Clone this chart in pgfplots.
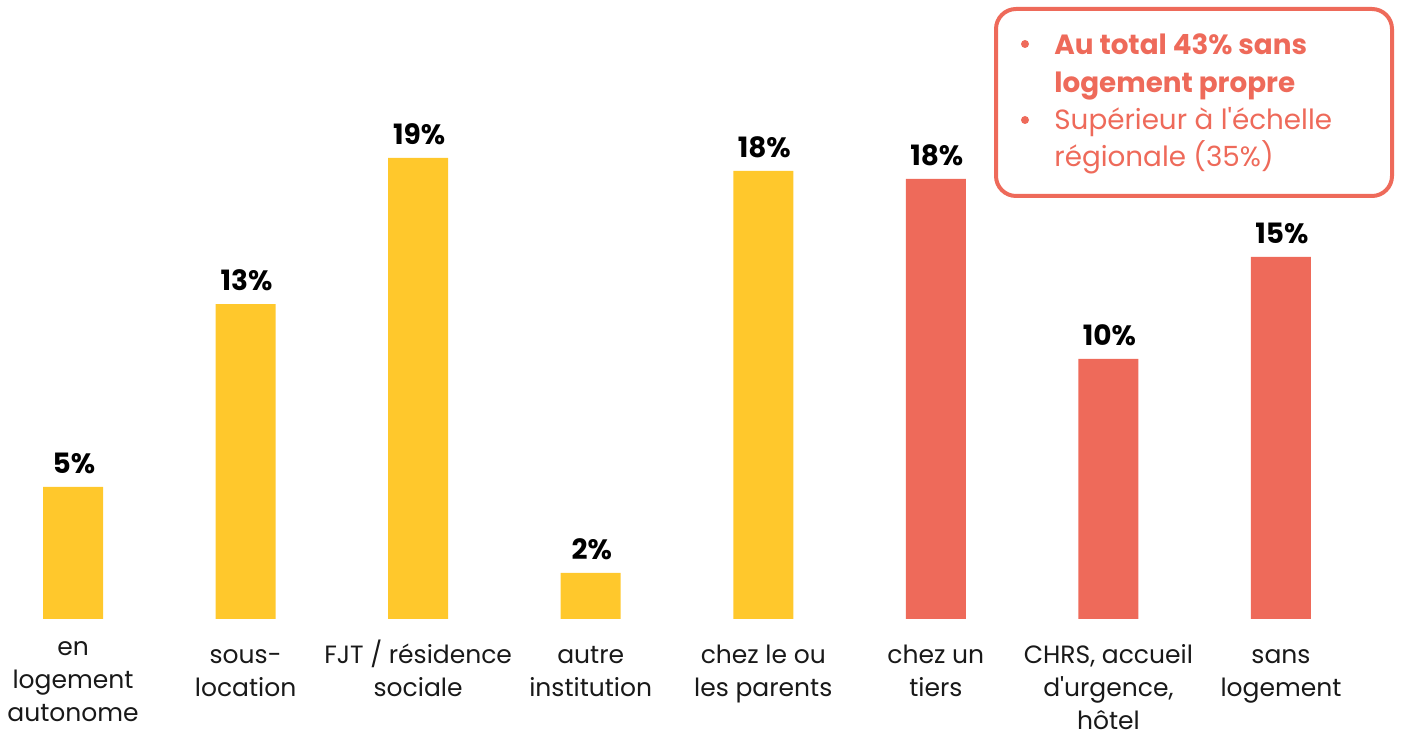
\documentclass[border=0pt]{standalone}
\usepackage{fontspec}
\setmainfont{Poppins}[Ligatures=TeXOff]
\usepackage{pgfplots}
\pgfplotsset{compat=1.18}
\usepackage{pgfplotstable}
\definecolor{baryellow}{HTML}{FFC82C}
\definecolor{barcoral}{HTML}{EE6A5A}

\pgfplotstableread{
x y lab
0 5.44 5
1 12.98 13
2 19.0 19
3 1.90 2
4 18.47 18
}\yellowdata
\pgfplotstableread{
x y lab
5 18.14 18
6 10.72 10
7 14.92 15
}\coraldata

\begin{document}
\begin{tikzpicture}
\useasboundingbox (-2pt,-57pt) rectangle (700pt,309.5pt);
\begin{axis}[
  scale only axis,
  width=673pt, height=303.3pt,
  xmin=-0.4, xmax=7.4, ymin=0, ymax=25,
  axis line style={draw=none},
  tick style={draw=none},
  major tick length=0pt,
  ytick=\empty,
  xtick={0,...,7},
  /pgf/number format/assume math mode=true,
  xticklabels={
    \strut\raisebox{4pt}[0pt][0pt]{\begin{tabular}[t]{@{}c@{}}en\\logement\\autonome\end{tabular}},
    \strut sous-\\location,
    \strut FJT / résidence\\sociale,
    \strut autre\\institution,
    \strut chez le ou\\les parents,
    \strut chez un\\tiers,
    {\strut CHRS, accueil\\d'urgence,\\hôtel},
    \strut sans\\logement},
  xticklabel style={font=\fontsize{12.5}{16.5}\selectfont, align=center, anchor=north, inner sep=0pt, yshift=-10.45pt, text=black!90},
  ybar, bar width=30pt, bar shift=0pt,
  point meta=explicit,
  nodes near coords={\pgfmathprintnumber[assume math mode=true]{\pgfplotspointmeta}\%},
  every node near coord/.append style={font=\fontsize{14}{16}\selectfont\bfseries, text=black, anchor=south, inner sep=0pt, yshift=6.5pt, xshift=0.5pt},
  clip=false,
]
\addplot[draw=none, fill=baryellow] table[x=x, y=y, meta=lab] {\yellowdata};
\addplot[draw=none, fill=barcoral] table[x=x, y=y, meta=lab] {\coraldata};
\end{axis}
% annotation box
\draw[barcoral, line width=2pt, rounded corners=10pt] (496pt,211.5pt) rectangle (694pt,305pt);
\fill[barcoral] (510.5pt,287.5pt) circle (2pt);
\fill[barcoral] (510.5pt,249.5pt) circle (2pt);
\begin{scope}[every node/.style={anchor=base west, inner sep=0pt, text=barcoral, font=\fontsize{13.9}{19}\selectfont}]
\node at (525pt,282pt) {\bfseries Au total 43\% sans};
\node at (525pt,263pt) {\bfseries logement propre};
\node at (525pt,244.5pt) {Supérieur à l'échelle};
\node at (525pt,226pt) {régionale (35\%)};
\end{scope}
\end{tikzpicture}
\end{document}
